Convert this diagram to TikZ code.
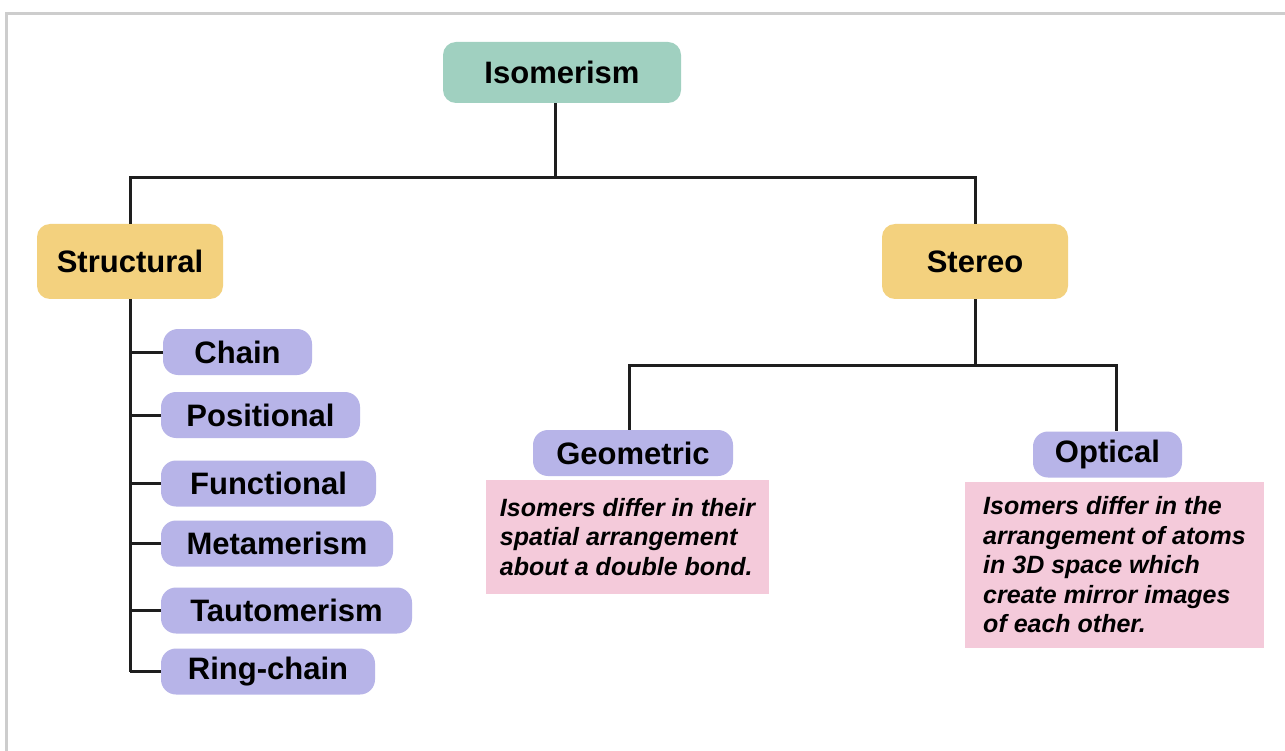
\documentclass[tikz,border=0pt]{standalone}
\usepackage{fontspec}
\setmainfont{Liberation Sans}
\definecolor{teal1}{RGB}{160,208,192}
\definecolor{yell1}{RGB}{243,209,126}
\definecolor{purp1}{RGB}{183,180,232}
\definecolor{pink1}{RGB}{244,202,218}
\definecolor{frame1}{RGB}{205,205,205}
\definecolor{line1}{RGB}{30,30,30}
\begin{document}
\begin{tikzpicture}[x=1pt,y=-1pt,
  box/.style={inner sep=0pt, rounded corners=13pt, font=\fontsize{31}{37}\selectfont\bfseries},
  topbox/.style={box, fill=teal1},
  midbox/.style={box, fill=yell1},
  subbox/.style={box, fill=purp1, rounded corners=15pt, minimum height=46pt},
  descbox/.style={fill=pink1, inner sep=0pt, align=left,
    font=\fontsize{25}{29.5}\selectfont\bfseries\itshape},
  conn/.style={draw=line1, line width=3pt}]
\useasboundingbox (0,0) rectangle (1285,751);
\fill[white] (0,0) rectangle (1285,751);
\draw[frame1, line width=3pt] (6.5,751) -- (6.5,13.5) -- (1285,13.5);

\node[topbox, minimum width=238pt, minimum height=61pt] (iso) at (562,72.5) {Isomerism};
\node[midbox, minimum width=186pt, minimum height=75pt] (struct) at (130,261.5) {Structural};
\node[midbox, minimum width=186pt, minimum height=75pt] (stereo) at (975,261.5) {Stereo};

\node[subbox, minimum width=149pt] (chain) at (237.5,352) {Chain};
\node[subbox, minimum width=199pt] (pos) at (260.5,415) {Positional};
\node[subbox, minimum width=215pt] (func) at (268.5,483.5) {Functional};
\node[subbox, minimum width=232pt] (meta) at (277,543.5) {Metamerism};
\node[subbox, minimum width=251pt] (taut) at (286.5,610.5) {Tautomerism};
\node[subbox, minimum width=214pt] (ring) at (268,671.5) {Ring-chain};

\node[subbox, minimum width=200pt] (geo) at (633,453) {Geometric};
\node[subbox, minimum width=149pt] (opt) at (1107.5,454.5) {Optical};

\node[descbox, minimum width=283pt, minimum height=114pt] (geod) at (627.5,537)
  {Isomers differ in their\\spatial arrangement\\about a double bond.};
\node[descbox, minimum width=299pt, minimum height=166pt] (optd) at (1114.5,565)
  {Isomers differ in the\\arrangement of atoms\\in 3D space which\\create mirror images\\of each other.};

\coordinate (j1) at (555,178);
\coordinate (j2) at (975,365);
\draw[conn] (iso.south -| j1) -- (j1);
\draw[conn] (struct.north) |- (j1) -| (stereo.north);
\draw[conn] (stereo.south) -- (j2);
\draw[conn] (geo.north -| 629,0) |- (j2) -| (opt.north -| 1116,0);

\draw[conn] (struct.south) -- (struct.south |- ring.west);
\foreach \n in {chain,pos,func,meta,taut,ring}
  \draw[conn] (struct.south |- \n.west) -- (\n.west);
\end{tikzpicture}
\end{document}
